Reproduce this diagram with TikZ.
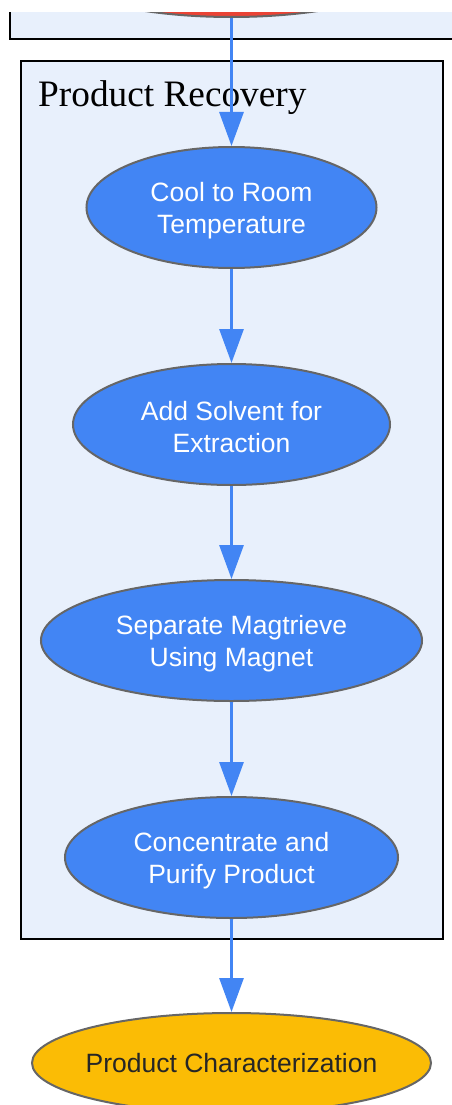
\documentclass[tikz,border=0pt]{standalone}
\usepackage{fontspec}
\setmainfont{Liberation Sans}
\newfontfamily\titlefont{Liberation Serif}
\usetikzlibrary{shapes.geometric,arrows.meta}
\definecolor{clusterfill}{HTML}{E8F0FC}
\definecolor{gblue}{HTML}{4285F4}
\definecolor{gred}{HTML}{EA4335}
\definecolor{gyellow}{HTML}{FBBC05}
\definecolor{edgegrey}{HTML}{666666}
\tikzset{
  stepnode/.style={ellipse, draw=edgegrey, line width=2pt, fill=gblue,
    inner sep=0pt, minimum height=121pt},
  endnode/.style={stepnode, fill=gyellow, minimum height=100pt},
  steptext/.style={inner sep=0pt, align=center, text=white,
    font=\fontsize{26.5pt}{32pt}\selectfont},
  endtext/.style={steptext, text=black!85},
  flow/.style={draw=gblue, line width=3pt, -{Triangle[length=34pt,width=24pt]}},
  cluster/.style={draw=black, line width=2pt, fill=clusterfill}
}
\begin{document}
\begin{tikzpicture}[x=1pt,y=-1pt]
\useasboundingbox (0,0) rectangle (452,1105);
\begin{scope}
\clip (0,0) rectangle (452,1105);
% top cluster (cut off)
\draw[cluster] (10,-150) rectangle (480,39);
\node[stepnode, fill=gred, minimum width=396pt, minimum height=120pt] (prev) at (231.5,-43) {};
\fill[white] (-5,-5) rectangle (460,12);
% product recovery cluster
\draw[cluster] (21,61) rectangle (443,939);
\node[anchor=base west, inner sep=0pt, font=\titlefont\fontsize{37.3pt}{40pt}\selectfont] (title) at (38,107) {Product Recovery};
\node[stepnode, minimum width=290pt] (cool) at (231.5,207.5) {};
\node[steptext, yshift=-3pt] (coolt) at (cool.center) {Cool to Room\\Temperature};
\node[stepnode, minimum width=317pt] (solvent) at (231.5,424.5) {};
\node[steptext, yshift=-3pt] (solventt) at (solvent.center) {Add Solvent for\\Extraction};
\node[stepnode, minimum width=381pt] (separate) at (231.5,640.5) {};
\node[steptext, yshift=-3pt] (separatet) at (separate.center) {Separate Magtrieve\\Using Magnet};
\node[stepnode, minimum width=333pt] (conc) at (231.5,857.5) {};
\node[steptext, yshift=-3pt] (conct) at (conc.center) {Concentrate and\\Purify Product};
\node[endnode, minimum width=399pt] (char) at (231.5,1063) {};
\node[endtext] (chart) at (char.center) {Product Characterization};
\draw[flow] (prev.south) -- (cool.north);
\draw[flow] (cool.south) -- (solvent.north);
\draw[flow] (solvent.south) -- (separate.north);
\draw[flow] (separate.south) -- (conc.north);
\draw[flow] (conc.south) -- (char.north);
\end{scope}
\end{tikzpicture}
\end{document}
